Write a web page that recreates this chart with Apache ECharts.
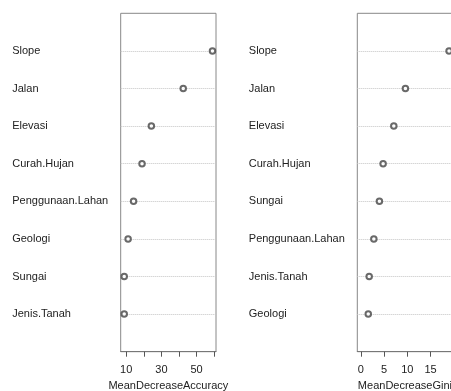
<!DOCTYPE html>
<html>
<head>
<meta charset="utf-8">
<script src="https://cdn.jsdelivr.net/npm/echarts@6/dist/echarts.min.js"></script>
<style>html,body{margin:0;padding:0;background:#fff}#c{width:451px;height:391px}</style>
</head>
<body>
<div id="c"></div>
<script>
// Left panel: MeanDecreaseAccuracy (top to bottom)
const accCategories = ["Slope","Jalan","Elevasi","Curah.Hujan","Penggunaan.Lahan","Geologi","Sungai","Jenis.Tanah"];
const accValues = [59.0, 42.4, 24.3, 19.0, 14.2, 11.1, 8.9, 8.9];
const accTicks = [10, 20, 30, 40, 50, 60];
const accTickLabels = [10, 30, 50];
const accTitle = "MeanDecreaseAccuracy";

// Right panel: MeanDecreaseGini (top to bottom)
const giniCategories = ["Slope","Jalan","Elevasi","Curah.Hujan","Sungai","Penggunaan.Lahan","Jenis.Tanah","Geologi"];
const giniValues = [19.0, 9.6, 7.1, 4.8, 4.0, 2.8, 1.8, 1.6];
const giniTicks = [0, 5, 10, 15];
const giniTickLabels = [0, 5, 10, 15];
const giniTitle = "MeanDecreaseGini";

const rowPositions = [1,2,3,4,5,6,7,8];
const FONT = "'Liberation Sans', Arial, sans-serif";
const TXT = '#222';

function rng(vals, fromZero) {
  const lo = fromZero ? 0 : Math.min(...vals);
  const hi = Math.max(...vals);
  const w = hi - lo;
  return [lo - 0.04 * w, hi + 0.04 * w];
}
const accR = rng(accValues, false);
const giniR = rng(giniValues, true);

function xAxisFor(gi, r, ticks, labels, title) {
  return {
    type: 'value', gridIndex: gi, min: r[0], max: r[1],
    axisLine: { show: true, lineStyle: { color: '#777', width: 1 } },
    axisTick: { show: true, customValues: ticks, length: 5, lineStyle: { color: '#555' } },
    axisLabel: { customValues: labels, margin: 13, fontSize: 11, color: TXT, fontFamily: FONT, hideOverlap: false },
    splitLine: { show: false },
    name: title, nameLocation: 'middle', nameGap: 26,
    nameTextStyle: { fontSize: 11, color: TXT, fontFamily: FONT }
  };
}
function yAxisFor(gi, cats) {
  const n = cats.length;
  return {
    type: 'value', gridIndex: gi, min: 0, max: n + 1,
    axisLine: { show: false }, axisTick: { show: false }, splitLine: { show: false },
    axisLabel: {
      customValues: rowPositions, align: 'left', margin: 108.5,
      fontSize: 11, color: TXT, fontFamily: FONT,
      formatter: v => cats[n - v]
    }
  };
}
function seriesFor(gi, cats, vals) {
  const n = cats.length;
  return {
    type: 'scatter', xAxisIndex: gi, yAxisIndex: gi,
    data: vals.map((v, i) => [v, n - i]),
    symbol: 'emptyCircle', symbolSize: 5.5,
    itemStyle: { color: '#444', borderColor: '#444', borderWidth: 0.9 },
    z: 5,
    markLine: {
      silent: true, symbol: ['none', 'none'], animation: false,
      label: { show: false },
      lineStyle: { type: 'dotted', color: '#c4c4c4', width: 1 },
      emphasis: { disabled: true },
      data: cats.map((c, i) => ({ yAxis: n - i }))
    },
    animation: false
  };
}

const chart = echarts.init(document.getElementById('c'), null, { renderer: 'canvas' });
chart.setOption({
  backgroundColor: '#fff',
  animation: false,
  grid: [
    { left: 120.7, right: 235, top: 13.3, bottom: 39.3, show: true, borderColor: '#888', borderWidth: 1, backgroundColor: 'transparent', containLabel: false, outerBoundsMode: 'none' },
    { left: 357.3, right: -1.6, top: 13.3, bottom: 39.3, show: true, borderColor: '#888', borderWidth: 1, backgroundColor: 'transparent', containLabel: false, outerBoundsMode: 'none' }
  ],
  xAxis: [
    xAxisFor(0, accR, accTicks, accTickLabels, accTitle),
    xAxisFor(1, giniR, giniTicks, giniTickLabels, giniTitle)
  ],
  yAxis: [yAxisFor(0, accCategories), yAxisFor(1, giniCategories)],
  series: [seriesFor(0, accCategories, accValues), seriesFor(1, giniCategories, giniValues)]
});
</script>
</body>
</html>
